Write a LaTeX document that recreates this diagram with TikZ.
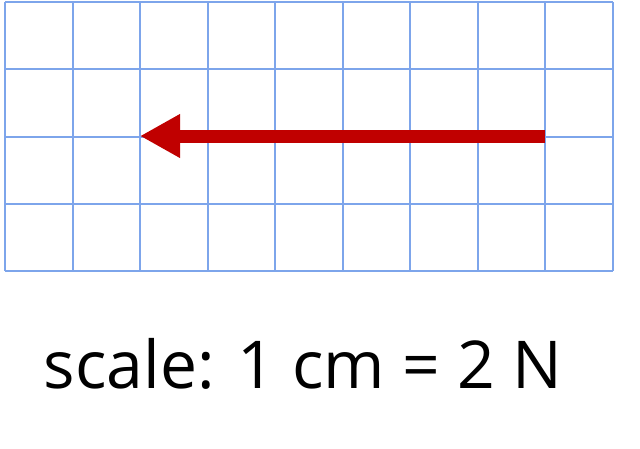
\documentclass[tikz,border=0pt]{standalone}
\usepackage{fontspec}
\setmainfont{Open Sans}
\usetikzlibrary{arrows.meta}
\definecolor{gridblue}{RGB}{125,165,235}
\definecolor{arrowred}{RGB}{192,0,0}
\tikzset{gridline/.style={draw=gridblue,line width=2pt},
  force/.style={draw=arrowred,line width=13pt,-{Triangle[length=40pt,width=41pt]}}}
\begin{document}
\begin{tikzpicture}[x=1pt,y=-1pt]
\useasboundingbox (0,0) rectangle (640,448);
\foreach \i in {0,...,9} \draw[gridline] ({5+\i*67.55},2) -- ({5+\i*67.55},271);
\foreach \j in {0,...,4} \draw[gridline] (5,{2+\j*67.25}) -- (613.0,{2+\j*67.25});
\coordinate (start) at (545,136);
\coordinate (tip) at (140,136);
\draw[force] (start) -- (tip);
\node[font=\fontsize{66}{68}\selectfont,anchor=base,inner sep=0pt] (label) at (303,388) {scale: 1 cm = 2 N};
\end{tikzpicture}
\end{document}
